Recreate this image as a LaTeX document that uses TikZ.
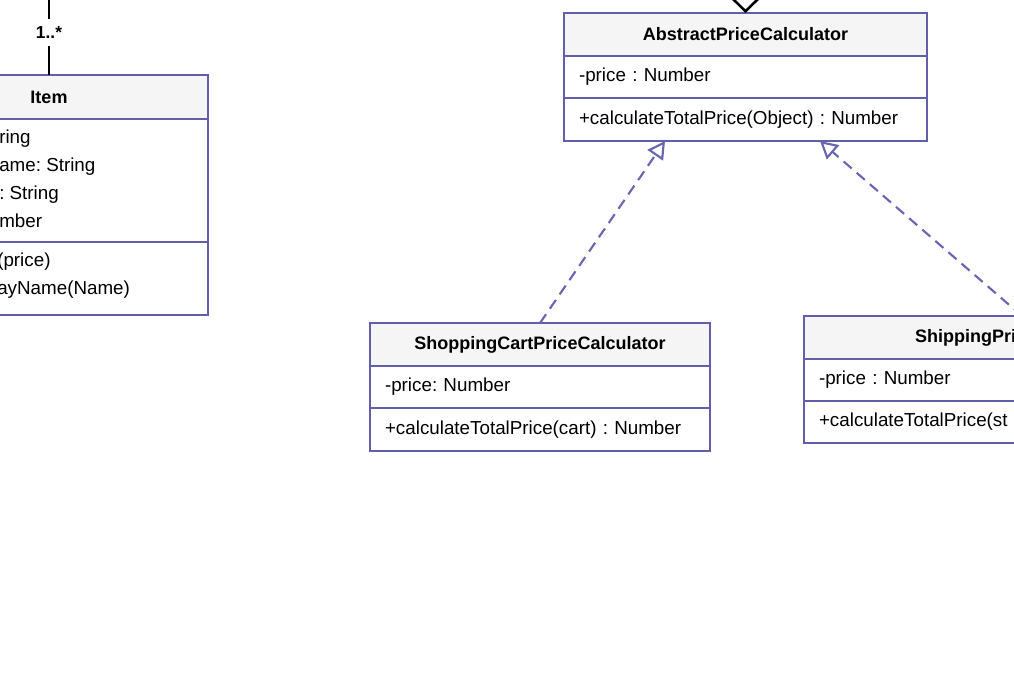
\documentclass[tikz,border=0pt]{standalone}
\usepackage{fontspec}
\setmainfont{Liberation Sans}
\usetikzlibrary{positioning,arrows.meta,calc}
\definecolor{umlline}{RGB}{98,94,170}
\definecolor{umldash}{RGB}{106,102,178}
\definecolor{headfill}{RGB}{245,245,245}
\frenchspacing
\begin{document}
\begin{tikzpicture}[x=0.75pt, y=-0.75pt,
  font=\fontsize{14.1}{21}\selectfont,
  head/.style={draw=umlline, line width=1.9pt, fill=headfill, outer sep=0pt, inner sep=0pt,
    minimum height=32.25pt, font=\fontsize{13.5}{16}\selectfont\bfseries},
  part/.style={draw=umlline, line width=1.9pt, fill=white, outer sep=0pt, inner xsep=11.25pt,
    inner ysep=0pt, align=left},
  realize/.style={umldash, line width=1.6pt, dash pattern=on 8pt off 5pt,
    -{Triangle[open, length=13pt, width=14pt]}},
  frag/.style={anchor=west, align=left, inner sep=0pt}
]
\useasboundingbox (0,0) rectangle (1014,675);
\clip (0,0) rectangle (1014,675);

% abstract class
\node[head, minimum width=272.25pt] (abshead) at (745.5,34.5) {AbstractPriceCalculator};
\node[part, text width=249.75pt, minimum height=31.5pt, below=0pt of abshead] (absattr) {-price : Number};
\node[part, text width=249.75pt, minimum height=32.25pt, below=0pt of absattr] (absops) {+calculateTotalPrice(Object) : Number};

% concrete calculators
\node[head, minimum width=255pt] (shophead) at (540,344.5) {ShoppingCartPriceCalculator};
\node[part, text width=232.5pt, minimum height=31.5pt, below=0pt of shophead] (shopattr) {-price: Number};
\node[part, text width=232.5pt, minimum height=32.25pt, below=0pt of shopattr] (shopops) {+calculateTotalPrice(cart) : Number};

\node[head, minimum width=327pt, inner xsep=83.25pt, text width=160.5pt, align=left] (shiphead) at (1022,337.5) {ShippingPri};
\node[part, text width=304.5pt, minimum height=31.5pt, below=0pt of shiphead] (shipattr) {-price : Number};
\node[part, text width=304.5pt, minimum height=31.5pt, below=0pt of shipattr] (shipops) {+calculateTotalPrice(st};

% item class
\node[head, minimum width=238.5pt, minimum height=33pt] (itemhead) at (49,97) {Item};
\node[part, minimum width=238.5pt, minimum height=92.25pt, below=0pt of itemhead] (itemattr) {};
\node[part, minimum width=238.5pt, minimum height=54.75pt, below=0pt of itemattr] (itemops) {};
\node[frag] (itemattrtext) at (-1,179) {ring\\ame: String\\: String\\mber};
\node[frag] (itemopstext) at (-3,276) {(price)\\ayName(Name)};

% connectors
\coordinate (itemup) at (49,-10);
\draw[line width=1.9pt] (itemhead.north) -- node[fill=white, inner xsep=2pt, inner ysep=6pt,
  font=\fontsize{13}{14}\selectfont\bfseries] (mult) {1..*} (itemup);
\coordinate (absup) at (745.5,-40);
\draw[line width=1.9pt, {Diamond[open, length=19.5pt, width=20pt]}-] (abshead.north) -- (absup);
\draw[realize] (shophead.north) -- ($(absops.south)+(-80.5,0)$);
\draw[realize] (shiphead.north) -- ($(absops.south)+(74.5,0)$);
\end{tikzpicture}
\end{document}
